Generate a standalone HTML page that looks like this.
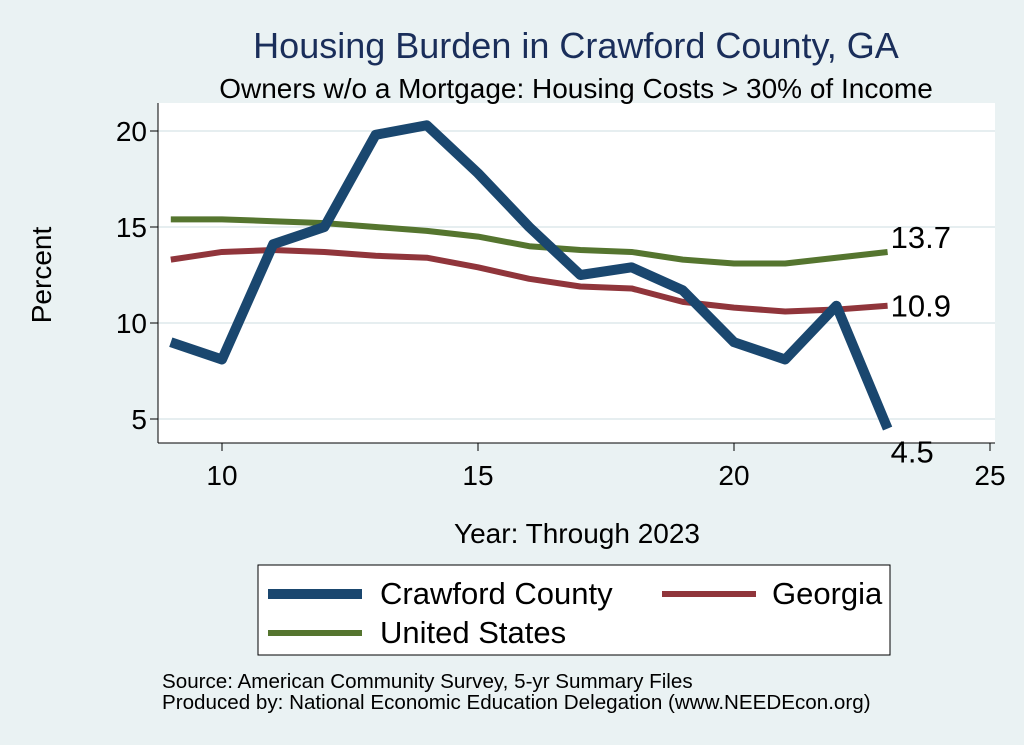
<!DOCTYPE html>
<html><head><meta charset="utf-8"><style>
body{margin:0;background:#eaf2f3;}
svg{display:block;font-family:"Liberation Sans",sans-serif;}
</style></head><body>
<svg width="1024" height="745">
<rect x="0" y="0" width="1024" height="745" fill="#eaf2f3"/>
<rect x="158" y="103" width="837" height="340" fill="#ffffff"/>
<text x="576" y="58" font-size="36" fill="#1a2e5a" text-anchor="middle">Housing Burden in Crawford County, GA</text>
<text x="576" y="98" font-size="28" fill="#000" text-anchor="middle">Owners w/o a Mortgage: Housing Costs &gt; 30% of Income</text>
<g id="grid"></g><g id="axes"></g><g id="lines"></g><g id="labels"></g>
<text x="51" y="275" font-size="28" text-anchor="middle" transform="rotate(-90 51 275)">Percent</text>
<text x="577" y="543" font-size="28" text-anchor="middle">Year: Through 2023</text>
<g>
<rect x="258" y="565" width="632" height="90" fill="#fff" stroke="#000" stroke-width="1"/>
<line x1="268" y1="594" x2="362" y2="594" stroke="#1a476f" stroke-width="10"/>
<text x="380" y="604" font-size="31">Crawford County</text>
<line x1="662" y1="594" x2="756" y2="594" stroke="#90353b" stroke-width="6"/>
<text x="772" y="604" font-size="31">Georgia</text>
<line x1="268" y1="633" x2="362" y2="633" stroke="#55752f" stroke-width="6"/>
<text x="380" y="643" font-size="31">United States</text>
</g>
<text x="162" y="688" font-size="20.6">Source: American Community Survey, 5-yr Summary Files</text>
<text x="162" y="709" font-size="20.6">Produced by: National Economic Education Delegation (www.NEEDEcon.org)</text>
</svg>
<script>
const years=[9,10,11,12,13,14,15,16,17,18,19,20,21,22,23];
const crawford=[9.0,8.1,14.1,15.0,19.8,20.3,17.8,15.0,12.5,12.9,11.7,9.0,8.1,10.9,4.5];
const georgia=[13.3,13.7,13.8,13.7,13.5,13.4,12.9,12.3,11.9,11.8,11.1,10.8,10.6,10.7,10.9];
const us=[15.4,15.4,15.3,15.2,15.0,14.8,14.5,14.0,13.8,13.7,13.3,13.1,13.1,13.4,13.7];
const xTicks=[10,15,20,25];
const yTicks=[5,10,15,20];
const NS="http://www.w3.org/2000/svg";
const X=v=>222+(v-10)*51.2;
const Y=v=>323-(v-10)*19.2;
function mk(p,tag,at){const e=document.createElementNS(NS,tag);for(const k in at)e.setAttribute(k,at[k]);document.getElementById(p).appendChild(e);return e;}
yTicks.forEach(t=>{
 const g=mk('grid','line',{x1:158,x2:995,y1:Y(t),y2:Y(t),stroke:'#e6eef0','stroke-width':2});
 
 
 const tk=mk('axes','line',{x1:150,x2:158,y1:Y(t),y2:Y(t),stroke:'#000'});
 
 
 const l=mk('axes','text',{x:147,y:Y(t)+10,'font-size':28,'text-anchor':'end'});l.textContent=t;
 
 
});
xTicks.forEach(t=>{
 const tk=mk('axes','line',{x1:X(t),x2:X(t),y1:443,y2:451,stroke:'#000'});
 
 
 const l=mk('axes','text',{x:X(t),y:485,'font-size':28,'text-anchor':'middle'});l.textContent=t;
 
 
});
const ya=mk('axes','line',{x1:158,x2:158,y1:103,y2:443,stroke:'#000'});


const xa=mk('axes','line',{x1:158,x2:995,y1:443,y2:443,stroke:'#000'});


function series(vals,color,w,name,lx,ly){
 const p=mk('lines','polyline',{points:years.map((y,i)=>X(y)+','+Y(vals[i])).join(' '),fill:'none',stroke:color,'stroke-width':w,'stroke-linejoin':'round'});
 
 
 const last=vals[vals.length-1];
 const t=mk('labels','text',{x:X(years[years.length-1])+lx,y:Y(last)+ly,'font-size':31});
 t.textContent=last.toFixed(1);
 
 
}
series(us,'#55752f',6,'us',3,-4);
series(georgia,'#90353b',6,'georgia',3,11);
series(crawford,'#1a476f',10,'crawford',3,34);
</script>
</body></html>
